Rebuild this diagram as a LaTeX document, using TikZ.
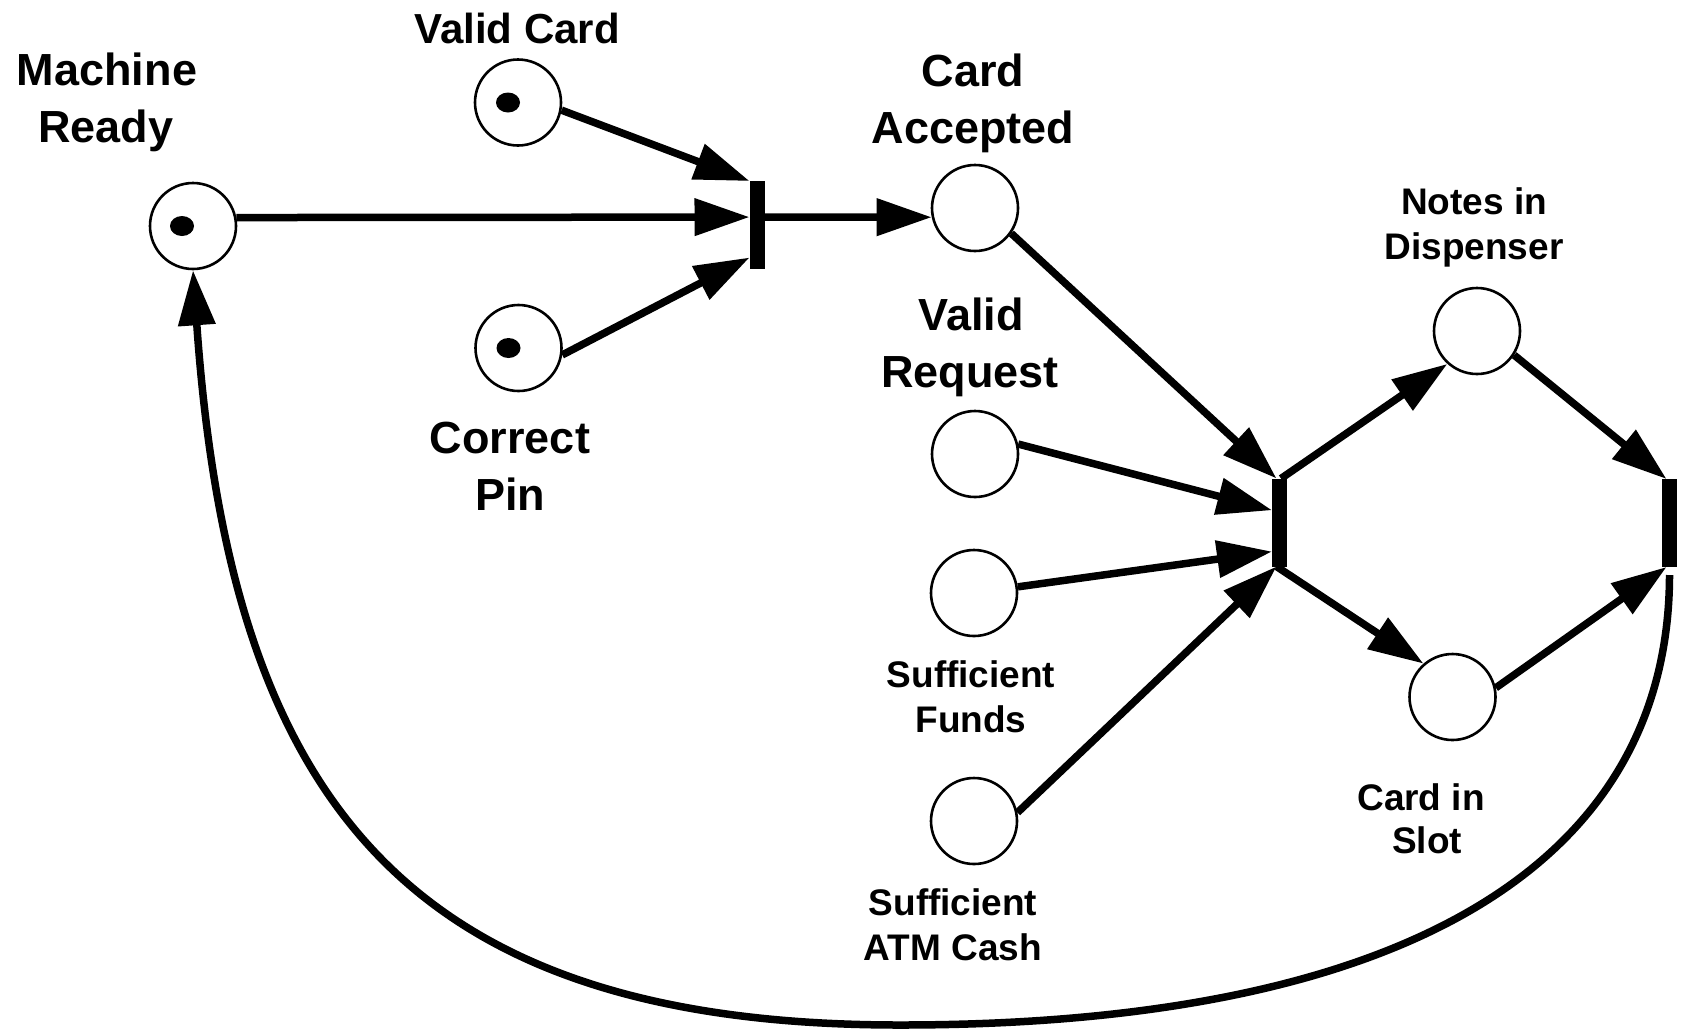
\documentclass[tikz,border=0pt]{standalone}
\usepackage{fontspec}
\setmainfont{Liberation Sans}
\usetikzlibrary{arrows.meta,calc}
\begin{document}
\begin{tikzpicture}[x=1pt, y=-1pt,
  placenode/.style={circle, draw=black, line width=2.6pt, minimum size=86pt, inner sep=0pt},
  transbar/.style={rectangle, fill=black, minimum width=15pt, minimum height=88pt, inner sep=0pt, outer sep=0pt},
  flow/.style={line width=7.5pt, -{Triangle[length=55pt,width=36pt]}},
  bigtxt/.style={font=\bfseries\fontsize{45pt}{54pt}\selectfont, inner sep=0pt, anchor=base},
  smalltxt/.style={font=\bfseries\fontsize{37pt}{44pt}\selectfont, inner sep=0pt, anchor=base},
]
% canvas
\fill[white] (0,0) rectangle (1683,1029);
\useasboundingbox (0,0) rectangle (1683,1029);

% places
\node[placenode] (mr)  at (193,226)   {};
\node[placenode] (vc)  at (518,102.5) {};
\node[placenode] (cp)  at (518.5,348) {};
\node[placenode] (ca)  at (975,208)   {};
\node[placenode] (vr)  at (975,454)   {};
\node[placenode] (sf)  at (974,593)   {};
\node[placenode] (sac) at (974,821)   {};
\node[placenode] (nd)  at (1477,331)  {};
\node[placenode] (cs)  at (1452.5,697) {};

% transitions
\node[transbar] (t1) at (757,225)     {};
\node[transbar] (t2) at (1279.5,522.5) {};
\node[transbar] (t3) at (1669.5,523)  {};

% tokens
\fill ([xshift=-11pt]mr.center) ellipse [x radius=12pt, y radius=10pt];
\fill ([xshift=-10pt]vc.center) ellipse [x radius=12pt, y radius=10pt];
\fill ([xshift=-10pt]cp.center) ellipse [x radius=12pt, y radius=10pt];

% labels
\node[bigtxt] (mr-l1) at (107,85)  {Machine};
\node[bigtxt] (mr-l2) at (106,142) {Ready};
\node[bigtxt, font=\bfseries\fontsize{42pt}{50pt}\selectfont] (vc-l) at (517,43) {Valid Card};
\node[bigtxt] (ca-l1) at (973,86)  {Card};
\node[bigtxt] (ca-l2) at (973,143) {Accepted};
\node[bigtxt] (vr-l1) at (971,330) {Valid};
\node[bigtxt] (vr-l2) at (970,387) {Request};
\node[bigtxt] (cp-l1) at (510,453) {Correct};
\node[bigtxt] (cp-l2) at (510,510) {Pin};
\node[smalltxt] (nd-l1)  at (1474,214) {Notes in};
\node[smalltxt] (nd-l2)  at (1474,259) {Dispenser};
\node[smalltxt] (sf-l1)  at (971,687)  {Sufficient};
\node[smalltxt] (sf-l2)  at (971,732)  {Funds};
\node[smalltxt] (cs-l1)  at (1421,810) {Card in};
\node[smalltxt] (cs-l2)  at (1427,853) {Slot};
\node[smalltxt] (sac-l1) at (953,915)  {Sufficient};
\node[smalltxt] (sac-l2) at (953,960)  {ATM Cash};

% arcs into and out of the first transition
\draw[flow] (mr.11) -- ($(t1.north west)!0.41!(t1.south west)$);
\draw[flow] (vc.-10) -- (t1.north west);
\draw[flow] (cp.-9) -- ($(t1.north west)!0.87!(t1.south west)$);
\draw[flow] ($(t1.north east)!0.41!(t1.south east)$) -- (ca.192);

% arcs into and out of the second transition
\draw[flow] (ca.-35) -- ($(t2.north west)!0.3!(t2.north east)$);
\draw[flow] (vr.13) -- ($(t2.north west)!0.36!(t2.south west)$);
\draw[flow] (sf.8) -- ($(t2.north west)!0.83!(t2.south west)$);
\draw[flow] (sac.11) -- ($(t2.south west)!0.3!(t2.south east)$);
\draw[flow] ($(t2.north west)!0.6!(t2.north east)$) -- (nd.228);
\draw[flow] ($(t2.south west)!0.3!(t2.south east)$) -- (cs.131);

% arcs into the third transition
\draw[flow] (nd.-33) -- ($(t3.north west)!0.3!(t3.north east)$);
\draw[flow] (cs.12) -- ($(t3.south west)!0.3!(t3.south east)$);

% return arc to the ready state
\draw[flow] ([yshift=-8pt]t3.south) .. controls (1669,867) and (1400,1025) .. (900,1025)
  .. controls (405,1025) and (230,799) .. (mr.south);
\end{tikzpicture}
\end{document}
